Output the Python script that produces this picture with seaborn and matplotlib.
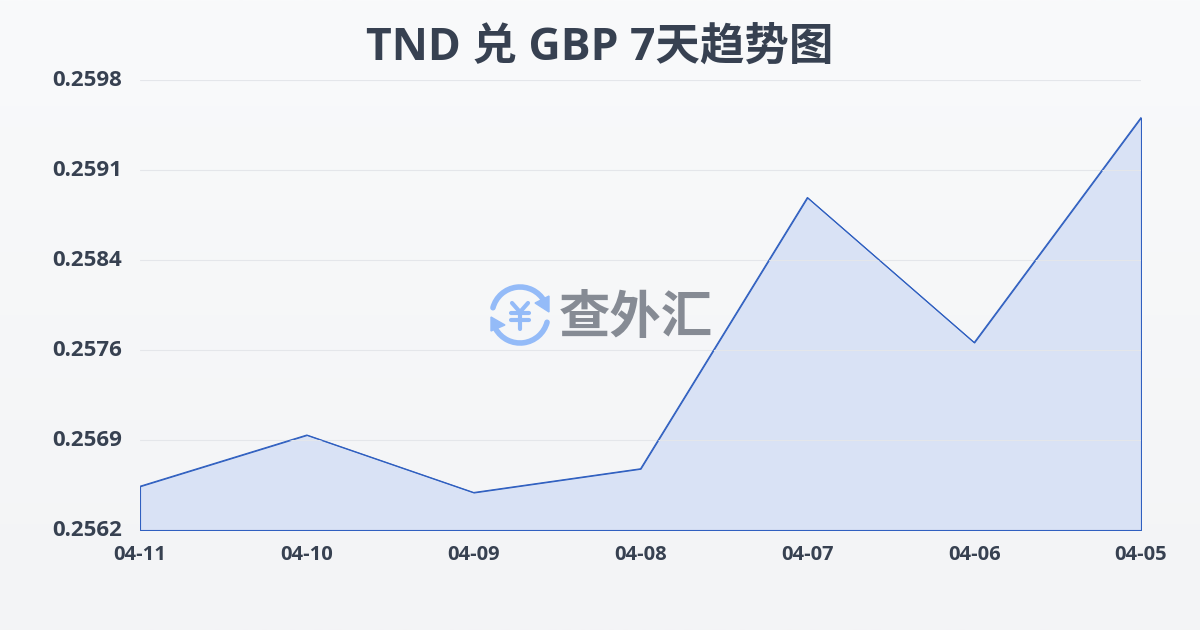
import matplotlib
matplotlib.use("Agg")
import matplotlib.pyplot as plt
import numpy as np
import pandas as pd
import seaborn as sns
from matplotlib.patches import Arc, Polygon

dates = ["04-11", "04-10", "04-09", "04-08", "04-07", "04-06", "04-05"]
rates = [0.25655, 0.25696, 0.25650, 0.25669, 0.25886, 0.25770, 0.25950]
y_ticks = [0.2562, 0.25692, 0.25764, 0.25836, 0.25908, 0.2598]
y_labels = ["0.2562", "0.2569", "0.2576", "0.2584", "0.2591", "0.2598"]
title = "TND 兑 GBP 7天趋势图"
watermark = "查外汇"

sns.set_theme(style="white")
plt.rcParams["font.family"] = ["Open Sans", "Noto Sans CJK SC", "DejaVu Sans"]

W, H = 1200, 630
TEXT = "#374151"
LINE = "#2f5fc0"

fig = plt.figure(figsize=(W / 100, H / 100), dpi=100)

# page background, soft vertical gradient
bg = fig.add_axes([0, 0, 1, 1], zorder=0)
bg.imshow(np.linspace(0, 1, 256).reshape(-1, 1), aspect="auto", extent=[0, W, H, 0],
          cmap=matplotlib.colors.LinearSegmentedColormap.from_list("bg", ["#f9fafb", "#f3f4f6"]))
bg.axis("off")

ax = fig.add_axes([140 / W, 1 - 530 / H, 1001 / W, 450 / H], zorder=1)
ax.patch.set_alpha(0)

df = pd.DataFrame({"date": dates, "rate": rates})
df["pos"] = range(len(df))

ax.fill_between(df["pos"], rates, y_ticks[0], facecolor="#d9e2f5", edgecolor=LINE, linewidth=0.8, zorder=2)
sns.lineplot(data=df, x="pos", y="rate", color=LINE, linewidth=0.8, ax=ax, zorder=3)

ax.set_xlim(0, len(dates) - 1)
ax.set_ylim(y_ticks[0], y_ticks[-1])
ax.set_xticks(df["pos"], dates)
ax.set_yticks(y_ticks, y_labels)
ax.set_xlabel("")
ax.set_ylabel("")
ax.grid(axis="y", color="#e4e6ea", linewidth=0.8, zorder=2.5)
ax.set_axisbelow(False)
sns.despine(ax=ax, left=True, bottom=True, top=True, right=True)
ax.tick_params(axis="x", length=8, width=0.8, color="#e6e6d8", pad=2.5, labelsize=14.5, labelcolor=TEXT)
ax.tick_params(axis="y", length=0, pad=13, labelsize=16, labelcolor=TEXT)
for lab in ax.get_xticklabels() + ax.get_yticklabels():
    lab.set_fontweight("bold")
for lab in ax.get_yticklabels():
    lab.set_transform(lab.get_transform() + matplotlib.transforms.ScaledTranslation(0, 2 / 100, fig.dpi_scale_trans))

fig.text(600 / W, 1 - 48 / H, title, fontsize=32, fontweight="bold", color=TEXT, ha="center", va="center")

# watermark logo, pixel space overlay
ov = fig.add_axes([0, 0, 1, 1], zorder=4)
ov.set_xlim(0, W)
ov.set_ylim(H, 0)
ov.axis("off")
BLUE = "#94bbf8"
cx, cy = 520, 315
ov.add_patch(Arc((cx, cy), 56, 56, theta1=15, theta2=150, color=BLUE, lw=4, capstyle="round"))
ov.add_patch(Arc((cx, cy), 56, 56, theta1=195, theta2=330, color=BLUE, lw=4, capstyle="round"))
ov.add_patch(Polygon([[549, 296], [549, 312], [535, 303]], color=BLUE))
ov.add_patch(Polygon([[491, 317], [491, 331], [505, 325]], color=BLUE))
yen = dict(color=BLUE, lw=3, solid_capstyle="round")
ov.plot([512, 520, 528], [303, 312, 303], **yen)
ov.plot([511, 529], [313, 313], **yen)
ov.plot([511, 529], [320, 320], **yen)
ov.plot([520, 520], [312, 329], **yen)
ov.set_xlim(0, W)
ov.set_ylim(H, 0)
ov.text(636, 320, watermark, fontsize=37, fontweight="bold", color="#868b94", ha="center", va="center")

fig.savefig("out.png", dpi=100)
